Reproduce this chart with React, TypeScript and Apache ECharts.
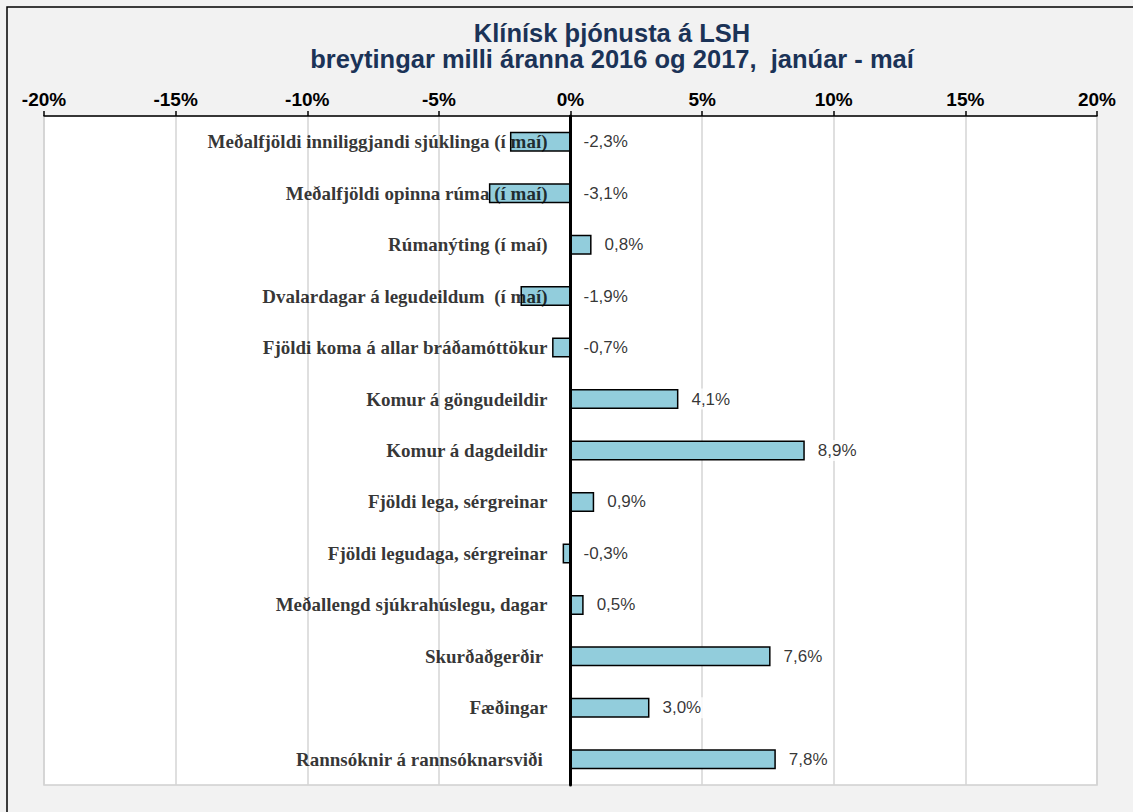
import React, { useEffect, useRef } from "react";
import * as echarts from "echarts";

const categories = [
  "Meðalfjöldi inniliggjandi sjúklinga (í maí)",
  "Meðalfjöldi opinna rúma (í maí)",
  "Rúmanýting (í maí)",
  "Dvalardagar á legudeildum  (í maí)",
  "Fjöldi koma á allar bráðamóttökur",
  "Komur á göngudeildir",
  "Komur á dagdeildir",
  "Fjöldi lega, sérgreinar",
  "Fjöldi legudaga, sérgreinar",
  "Meðallengd sjúkrahúslegu, dagar",
  "Skurðaðgerðir ",
  "Fæðingar",
  "Rannsóknir á rannsóknarsviði ",
];

const changes = [-2.3, -3.1, 0.8, -1.9, -0.7, 4.1, 8.9, 0.9, -0.3, 0.5, 7.6, 3.0, 7.8];

const tickValues = { min: -20, max: 20, step: 5 };

const titleLine1 = "Klínísk þjónusta á LSH";
const titleLine2 = "breytingar milli áranna 2016 og 2017,  janúar - maí";

export default function App() {
  const ref = useRef<HTMLDivElement>(null);
  useEffect(() => {
    if (!ref.current) return;
    const chart = echarts.init(ref.current, null, { renderer: "svg" });
    const labelPoints = changes.map((v, i) => [Math.max(v, 0), i, v]);
    const namePoints = categories.map((c, i) => [0, i, c]);
    const titleText = {
      color: "#1B3357",
      fontSize: 25.5,
      fontWeight: "bold",
      fontFamily: "'Liberation Sans', Arial, sans-serif",
    };
    chart.setOption({
      animation: false,
      backgroundColor: "#F2F2F2",
      title: [
        { text: titleLine1, left: 612, top: 20, textAlign: "center", textStyle: titleText, padding: 0 },
        { text: titleLine2, left: 612, top: 46, textAlign: "center", textStyle: titleText, padding: 0 },
      ],
      graphic: [
        {
          type: "rect",
          shape: { x: 7, y: 7, width: 1200, height: 900 },
          style: { fill: "none", stroke: "#000", lineWidth: 1.5 },
          z: 100,
        },
      ],
      grid: {
        left: 44,
        right: 36,
        top: 116,
        bottom: 27,
        containLabel: false,
        outerBoundsMode: "none",
        show: true,
        backgroundColor: "#fff",
        borderColor: "#D0D0D0",
        borderWidth: 1.5,
      },
      xAxis: {
        type: "value",
        position: "top",
        min: tickValues.min,
        max: tickValues.max,
        interval: tickValues.step,
        axisLine: { show: true, onZero: false, lineStyle: { color: "#000", width: 1.5 } },
        axisTick: { show: true, length: 5, lineStyle: { color: "#000", width: 1.5 } },
        axisLabel: {
          formatter: "{value}%",
          color: "#000",
          fontFamily: "'Liberation Sans', Arial, sans-serif",
          fontWeight: "bold",
          fontSize: 19,
          margin: 7,
        },
        splitLine: { show: true, lineStyle: { color: "#D4D4D4", width: 1.5 } },
      },
      yAxis: {
        type: "category",
        inverse: true,
        data: categories,
        z: 5,
        axisLine: { show: true, onZero: true, lineStyle: { color: "#000", width: 3 } },
        axisTick: { show: false },
        splitLine: { show: false },
        axisLabel: { show: false },
      },
      series: [
        {
          type: "bar",
          data: changes,
          barWidth: 20,
          itemStyle: { color: "#92CDDC", borderColor: "#000", borderWidth: 1.5 },
          z: 2,
        },
        {
          type: "scatter",
          data: namePoints,
          symbolSize: 0,
          silent: true,
          z: 6,
          label: {
            show: true,
            position: "left",
            distance: 23,
            formatter: (p: any) => p.value[2],
            color: "#000",
            fontFamily: "'Liberation Serif', 'Times New Roman', serif",
            fontWeight: "bold",
            fontSize: 19,
          },
        },
        {
          type: "scatter",
          data: labelPoints,
          symbolSize: 0,
          silent: true,
          z: 6,
          label: {
            show: true,
            position: "right",
            distance: 11,
            formatter: (p: any) => p.value[2].toFixed(1).replace(".", ",") + "%",
            color: "#000",
            fontFamily: "'Liberation Sans', Arial, sans-serif",
            fontSize: 17,
            backgroundColor: "#fff",
            padding: [2, 2],
          },
        },
      ],
    });
    return () => chart.dispose();
  }, []);
  return (
    <div
      ref={ref}
      style={{ position: "absolute", left: 0, top: 0, width: 1133, height: 812 }}
    />
  );
}
